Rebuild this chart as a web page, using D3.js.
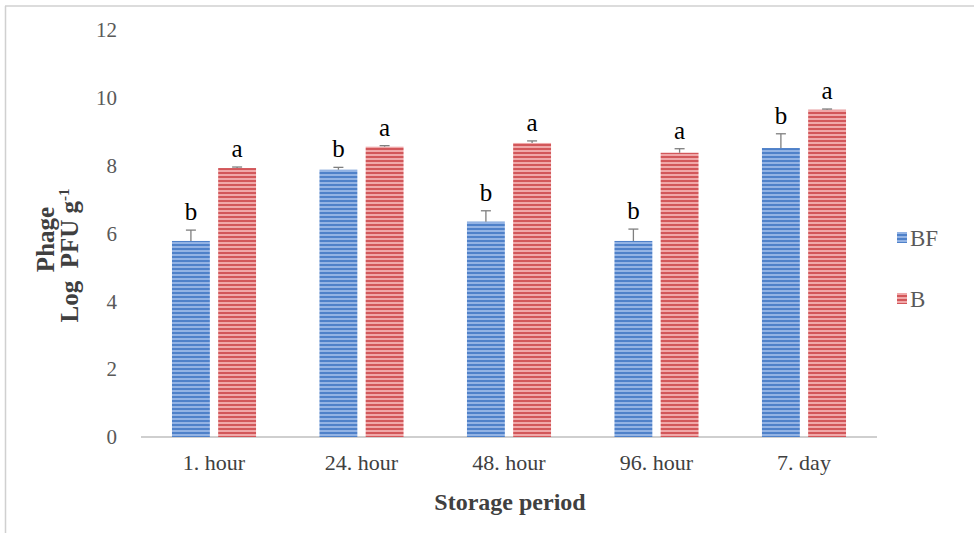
<!DOCTYPE html>
<html><head><meta charset="utf-8">
<script src="https://cdn.jsdelivr.net/npm/d3@7"></script>
<style>body{margin:0;background:#fff}svg{display:block}text{font-family:"Liberation Serif","Times New Roman",serif}</style>
</head><body><svg id="c" width="974" height="533"></svg>
<script>
const categories = ["1. hour","24. hour","48. hour","96. hour","7. day"];
const seriesNames = ["BF","B"];
const bfValues = [5.78, 7.88, 6.35, 5.78, 8.52];
const bfErrors = [0.32, 0.07, 0.32, 0.35, 0.42];
const bValues = [7.93, 8.56, 8.67, 8.38, 9.65];
const bErrors = [0.03, 0.03, 0.06, 0.12, 0.02];
const bfLetters = ["b","b","b","b","b"];
const bLetters = ["a","a","a","a","a"];
const yTicks = [0,2,4,6,8,10,12];

const svg = d3.select("#c");
const W = 974, H = 533;
const m = {left:141, right:97, top:30, bottom:96};
const x0 = d3.scaleBand().domain(categories).range([m.left, W-m.right]).paddingInner(0.43).paddingOuter(0.21);
const x1 = d3.scaleBand().domain(seriesNames).range([0, x0.bandwidth()]).paddingInner(0.18);
const y = d3.scaleLinear().domain([0,12]).range([H-m.bottom, m.top]);

const defs = svg.append("defs");
function stripes(id, dark, light){
  const p = defs.append("pattern").attr("id",id).attr("patternUnits","userSpaceOnUse").attr("width",4).attr("height",4);
  p.append("rect").attr("width",4).attr("height",4).attr("fill",light);
  p.append("rect").attr("width",4).attr("height",2).attr("fill",dark);
}
stripes("pBF","#4f81c9","#93b3e4");
stripes("pB","#d2575a","#f0a8a9");
const fills = {BF:"url(#pBF)", B:"url(#pB)"};

// frame
svg.append("line").attr("x1",5).attr("x2",W).attr("y1",6).attr("y2",6).attr("stroke","#d0d0d0").attr("stroke-width",1.5);
svg.append("line").attr("x1",5.5).attr("x2",5.5).attr("y1",6).attr("y2",H).attr("stroke","#d0d0d0").attr("stroke-width",1.5);

// y axis tick labels
const yAxis = d3.axisLeft(y).tickValues(yTicks).tickSize(0).tickPadding(24);
const gy = svg.append("g").attr("transform",`translate(${m.left},0)`).call(yAxis);
gy.select(".domain").remove();
gy.selectAll("text").style("font-family","Liberation Serif, serif").attr("font-size",21).attr("fill","#595959");

// x axis
const xAxis = d3.axisBottom(x0).tickSize(0).tickPadding(17);
const gx = svg.append("g").attr("transform",`translate(0,${y(0)})`).call(xAxis);
gx.select(".domain").attr("stroke","#bfbfbf").attr("stroke-width",1.5).attr("d",`M${m.left},0H${W-m.right}`);
gx.selectAll("text").style("font-family","Liberation Serif, serif").attr("font-size",22).attr("fill","#404040");

const data = categories.map((c,i)=>({c, s:[
  {n:"BF", v:bfValues[i], e:bfErrors[i], l:bfLetters[i]},
  {n:"B", v:bValues[i], e:bErrors[i], l:bLetters[i]}]}));

const g = svg.append("g").selectAll("g").data(data).join("g").attr("transform",d=>`translate(${x0(d.c)},0)`);
const bars = g.selectAll("g").data(d=>d.s).join("g");
bars.append("rect").attr("x",d=>x1(d.n)).attr("width",x1.bandwidth())
  .attr("y",d=>y(d.v)).attr("height",d=>y(0)-y(d.v)).attr("fill",d=>fills[d.n]);
// error bars
bars.append("line").attr("x1",d=>x1(d.n)+x1.bandwidth()/2).attr("x2",d=>x1(d.n)+x1.bandwidth()/2)
  .attr("y1",d=>y(d.v)).attr("y2",d=>y(d.v+d.e)).attr("stroke","#7f7f7f").attr("stroke-width",1.3);
bars.append("line").attr("x1",d=>x1(d.n)+x1.bandwidth()/2-5).attr("x2",d=>x1(d.n)+x1.bandwidth()/2+5)
  .attr("y1",d=>y(d.v+d.e)).attr("y2",d=>y(d.v+d.e)).attr("stroke","#7f7f7f").attr("stroke-width",1.3);
// letters
bars.append("text").attr("x",d=>x1(d.n)+x1.bandwidth()/2).attr("y",d=>y(d.v+d.e)-10)
  .attr("text-anchor","middle").attr("font-size",25).attr("fill","#000")
  .text(d=>d.l);

// legend
const leg = svg.append("g").selectAll("g").data(seriesNames).join("g")
  .attr("transform",(d,i)=>`translate(897,${238+i*61})`);
leg.append("rect").attr("x",0).attr("y",-6).attr("width",10).attr("height",11).attr("fill",d=>fills[d]);
leg.append("text").attr("x",13).attr("y",8).attr("font-size",23).attr("fill","#595959").text(d=>d);

// y title
const yt = svg.append("text").attr("transform",`translate(0,${(y(0)+y(12))/2+22}) rotate(-90)`)
  .attr("text-anchor","middle").attr("font-weight","bold").attr("font-size",25).attr("fill","#404040");
yt.append("tspan").attr("x",16).attr("y",54).text("Phage");
const t2 = yt.append("tspan").attr("x",0).attr("y",78).attr("xml:space","preserve").text("Log  PFU g");
t2.append("tspan").attr("dy",-9).attr("font-size",15).text("-1");

// x title
svg.append("text").attr("x",510).attr("y",510).attr("text-anchor","middle")
  .attr("font-weight","bold").attr("font-size",24).attr("fill","#404040").text("Storage period");
</script></body></html>
